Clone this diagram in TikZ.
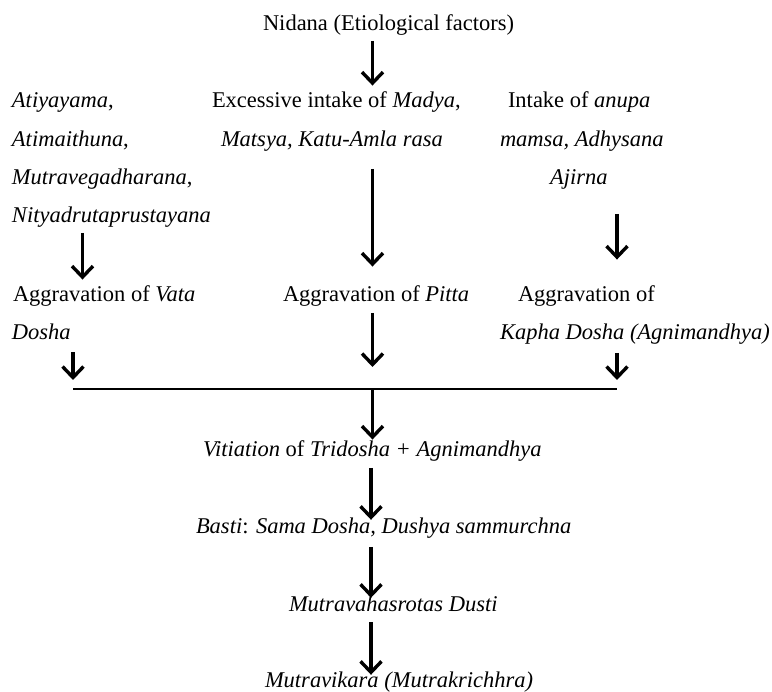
\documentclass[tikz,border=0pt]{standalone}
\usepackage{fontspec}
\setmainfont{Liberation Serif}
\usetikzlibrary{arrows.meta}
\begin{document}
\begin{tikzpicture}[x=1pt,y=-1pt,
  txt/.style={inner sep=0pt,outer sep=0pt,font=\fontsize{22.5}{27}\selectfont},
  lt/.style={txt,anchor=base west},
  arr/.style={line width=3.4pt,-{Straight Barb[length=11pt,width=21pt]}},
  bar/.style={line width=2.8pt}]
\useasboundingbox (0,0) rectangle (772,692);
% columns
\coordinate (cL) at (82.5,0);
\coordinate (cLs) at (73,0);
\coordinate (cM) at (372.5,0);
\coordinate (cB) at (371,0);
\coordinate (cR) at (617,0);
% texts
\node[lt] (nid) at (263,31) {Nidana (Etiological factors)};
\node[lt] (l1) at (12,108) {\textit{Atiyayama},};
\node[lt] (l2) at (12,147) {\textit{Atimaithuna},};
\node[lt] (l3) at (12,185) {\textit{Mutravegadharana},};
\node[lt] (l4) at (12,223) {\textit{Nityadrutaprustayana}};
\node[lt] (m1) at (212,108) {Excessive intake of \textit{Madya},};
\node[lt] (m2) at (221,147) {\textit{Matsya, Katu-Amla rasa}};
\node[lt] (r1) at (508,108) {Intake of \textit{anupa}};
\node[lt] (r2) at (500,147) {\textit{mamsa, Adhysana}};
\node[lt] (r3) at (550,185) {\textit{Ajirna}};
\node[lt] (va1) at (13,302) {Aggravation of \textit{Vata}};
\node[lt] (va2) at (12,340) {\textit{Dosha}};
\node[lt] (pi) at (283,302) {Aggravation of \textit{Pitta}};
\node[lt] (ka1) at (518,302) {Aggravation of};
\node[lt] (ka2) at (500,340) {\textit{Kapha Dosha (Agnimandhya)}};
\node[lt] (vit) at (203,457) {\textit{Vitiation} of \textit{Tridosha + Agnimandhya}};
\node[lt] (bas) at (196,534) {\textit{Basti}: \textit{Sama Dosha, Dushya sammurchna}};
\node[lt] (mvs) at (289,612) {\textit{Mutravahasrotas Dusti}};
\node[lt] (mvk) at (265,688) {\textit{Mutravikara (Mutrakrichhra)}};
% junction line
\coordinate (jl) at (73,389);
\coordinate (jr) at (617,389);
\draw[bar] (jl) -- (jr);
% arrows
\draw[arr] ([yshift=-5pt]nid.south -| cM) -- ([yshift=6.6pt]m1.north -| cM);
\draw[arr] ([yshift=-17pt]m2.south -| cM) -- ([yshift=19.6pt]pi.north -| cM);
\draw[arr] ([yshift=-5pt]l4.south -| cL) -- ([yshift=6.6pt]va1.north -| cL);
\draw[arr] ([yshift=-24pt]r3.south -| cR) -- ([yshift=26.6pt]ka1.north -| cR);
\draw[arr] ([yshift=-12pt]va2.south -| cLs) -- ([yshift=9pt]jl);
\draw[arr] ([yshift=-6pt]pi.south -| cM) -- ([yshift=22pt]jl -| cM);
\draw[arr] ([yshift=-8pt]ka2.south -| cR) -- ([yshift=9pt]jr);
\draw[arr] (jl -| cM) -- ([yshift=1.6pt]vit.north -| cM);
\draw[arr] ([yshift=-6pt]vit.south -| cB) -- ([yshift=-1.4pt]bas.north -| cB);
\draw[arr] ([yshift=-8pt]bas.south -| cB) -- ([yshift=-1.4pt]mvs.north -| cB);
\draw[arr] ([yshift=-10pt]mvs.south -| cB) -- ([yshift=-2.4pt]mvk.north -| cB);
\end{tikzpicture}
\end{document}
